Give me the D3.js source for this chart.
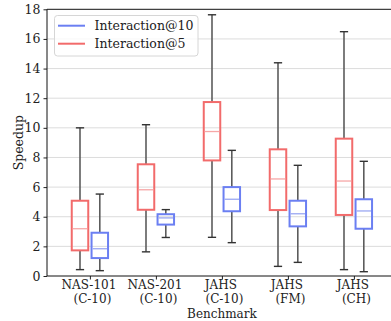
<!DOCTYPE html>
<html><head><meta charset="utf-8">
<script src="https://cdn.jsdelivr.net/npm/d3@7"></script>
<style>body{margin:0;background:#fff;}svg{display:block;}</style>
</head><body>
<svg id="c" width="391" height="321"></svg>
<script>
const categories = [["NAS-101","(C-10)"],["NAS-201","(C-10)"],["JAHS","(C-10)"],["JAHS","(FM)"],["JAHS","(CH)"]];
const seriesNames = ["Interaction@10","Interaction@5"];
// [whisker low, q1, median, q3, whisker high]
const inter5 = [
  [0.43, 1.73, 3.19, 5.08, 10.0],
  [1.63, 4.47, 5.82, 7.54, 10.21],
  [2.61, 7.80, 9.75, 11.74, 17.63],
  [0.65, 4.45, 6.55, 8.55, 14.39],
  [0.43, 4.12, 6.41, 9.27, 16.49]
];
const inter10 = [
  [0.36, 1.21, 1.84, 2.92, 5.53],
  [2.60, 3.47, 3.92, 4.17, 4.48],
  [2.25, 4.37, 5.18, 6.00, 8.48],
  [0.92, 3.35, 4.20, 5.08, 7.47],
  [0.29, 3.19, 4.39, 5.18, 7.74]
];
const yTicks = [0,2,4,6,8,10,12,14,16,18];

const svg = d3.select("#c");
const font = "'DejaVu Serif', serif";
const L = 47, R = 396.8, T = 9.3, B = 276;
const x = d3.scaleLinear().domain([0.35, 5.65]).range([L, R]);
const y = d3.scaleLinear().domain([0, 18]).range([B, T]);
const unit = x(1) - x(0);
const boxW = 0.25 * unit, capW = boxW / 2;

// grid
svg.append("g").selectAll("line").data(yTicks.filter(d => d > 0 && d < 18)).join("line")
  .attr("x1", L).attr("x2", R).attr("y1", d => y(d)).attr("y2", d => y(d))
  .attr("stroke", "#dcdcdc").attr("stroke-width", 1);

const series = [
  {name: "Interaction@5", data: inter5, off: -0.15, col: "#f26b6b", med: "#f6a7a7"},
  {name: "Interaction@10", data: inter10, off: 0.15, col: "#6b7ff2", med: "#9aa7f2"}
];

series.forEach(s => {
  const g = svg.append("g");
  s.data.forEach((d, i) => {
    const cx = x(i + 1 + s.off);
    g.append("line").attr("x1", cx).attr("x2", cx).attr("y1", y(d[0])).attr("y2", y(d[1]))
      .attr("stroke", "#5c5c5c").attr("stroke-width", 1.6);
    g.append("line").attr("x1", cx).attr("x2", cx).attr("y1", y(d[3])).attr("y2", y(d[4]))
      .attr("stroke", "#5c5c5c").attr("stroke-width", 1.6);
    [d[0], d[4]].forEach(v => {
      g.append("line").attr("x1", cx - capW/2).attr("x2", cx + capW/2).attr("y1", y(v)).attr("y2", y(v))
        .attr("stroke", "#333").attr("stroke-width", 1.4);
    });
    g.append("rect").attr("x", cx - boxW/2).attr("width", boxW)
      .attr("y", y(d[3])).attr("height", y(d[1]) - y(d[3]))
      .attr("fill", "none").attr("stroke", s.col).attr("stroke-width", 2);
    g.append("line").attr("x1", cx - boxW/2 + 1).attr("x2", cx + boxW/2 - 1).attr("y1", y(d[2])).attr("y2", y(d[2]))
      .attr("stroke", s.med).attr("stroke-width", 1.3);
  });
});

// axes
const ya = svg.append("g").attr("transform", `translate(${L},0)`)
  .call(d3.axisLeft(y).tickValues(yTicks).tickSize(3.5).tickPadding(3));
ya.select(".domain").remove();
ya.selectAll("text").attr("font-family", font).attr("font-size", "12.5px").attr("fill", "#222");
ya.selectAll("line").attr("stroke", "#222");

const xa = svg.append("g").attr("transform", `translate(0,${B})`)
  .call(d3.axisBottom(x).tickValues([1,2,3,4,5]).tickSize(3.5).tickFormat(""));
xa.select(".domain").remove();
xa.selectAll("line").attr("stroke", "#222");

// spines
svg.append("line").attr("x1", L).attr("x2", L).attr("y1", T).attr("y2", B).attr("stroke", "#111").attr("stroke-width", 1);
svg.append("line").attr("x1", L).attr("x2", R).attr("y1", B).attr("y2", B).attr("stroke", "#111").attr("stroke-width", 1);
svg.append("line").attr("x1", L).attr("x2", R).attr("y1", T).attr("y2", T).attr("stroke", "#111").attr("stroke-width", 1);

// category labels
categories.forEach((c, i) => {
  const cx = x(i + 1) - 1;
  svg.append("text").attr("x", cx).attr("y", 289.3).attr("text-anchor", "middle")
    .attr("font-family", font).attr("font-size", "12px").attr("fill", "#222").text(c[0]);
  svg.append("text").attr("x", cx + 3.5).attr("y", 303.3).attr("text-anchor", "middle")
    .attr("font-family", font).attr("font-size", "12px").attr("fill", "#222").text(c[1]);
});

svg.append("text").attr("x", (L + R) / 2).attr("y", 317.5).attr("text-anchor", "middle")
  .attr("font-family", font).attr("font-size", "12px").attr("fill", "#222").text("Benchmark");
svg.append("text").attr("transform", `translate(23,${(T + B) / 2}) rotate(-90)`).attr("text-anchor", "middle")
  .attr("font-family", font).attr("font-size", "12.5px").attr("fill", "#222").text("Speedup");

// legend
const lg = svg.append("g");
lg.append("rect").attr("x", 54.5).attr("y", 15.5).attr("width", 143.5).attr("height", 40.5).attr("rx", 3)
  .attr("fill", "#fff").attr("fill-opacity", 0.8).attr("stroke", "#d6d6d6");
const legCols = {"Interaction@10": "#6b7ff2", "Interaction@5": "#f26b6b"};
seriesNames.forEach((n, i) => {
  const yy = 25.7 + i * 18;
  lg.append("line").attr("x1", 58).attr("x2", 85).attr("y1", yy).attr("y2", yy)
    .attr("stroke", legCols[n]).attr("stroke-width", 2);
  lg.append("text").attr("x", 94.5).attr("y", yy + 4.3).attr("font-family", font).attr("font-size", "12.5px")
    .attr("fill", "#222").text(n);
});
</script>
</body></html>
